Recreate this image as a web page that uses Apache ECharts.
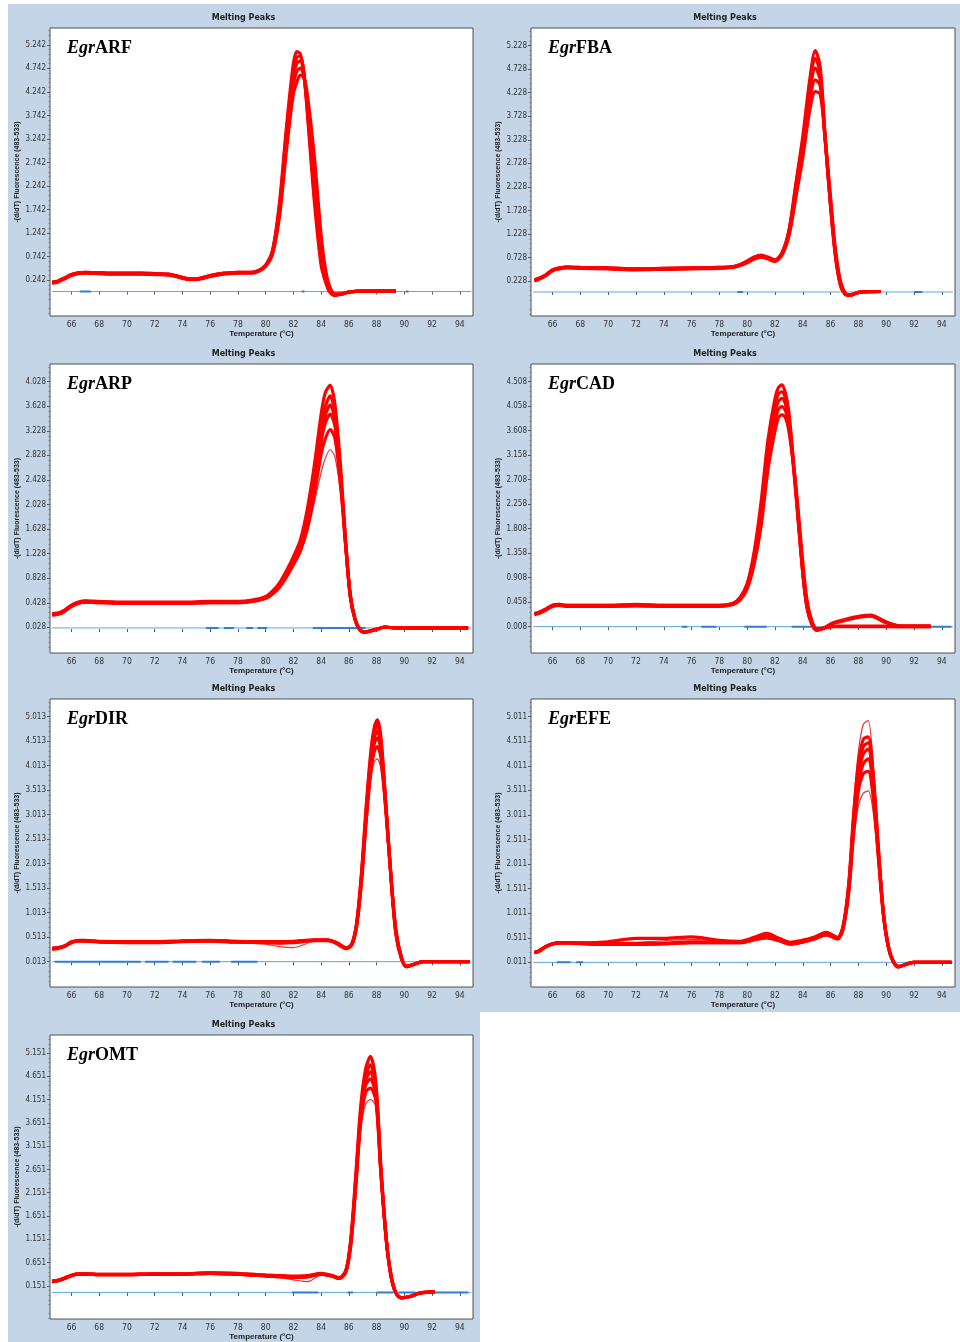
<!DOCTYPE html>
<html>
<head>
<meta charset="utf-8">
<script src="https://cdn.jsdelivr.net/npm/echarts@6/dist/echarts.min.js"></script>
<style>
html,body{margin:0;padding:0;background:#fff}
#chart{width:960px;height:1342px}
</style>
</head>
<body>
<div id="chart"></div>
<script>
// ---- temperature ticks shared by every panel ----
const xTicks = [66, 68, 70, 72, 74, 76, 78, 80, 82, 84, 86, 88, 90, 92, 94];

// ---- EgrARF ----
const arfTemps = [64.6,65,65.5,66,66.5,67,68,69,70,71,72,73,73.5,74,74.5,75,75.5,76,76.5,77,78,79,79.5,80,80.5,81,81.5,82,82.25,82.5,82.75,83,83.5,84,84.3,84.6,85,85.5,86,87,88,89.4];
const arfHigh = [0.20,0.22,0.29,0.36,0.40,0.41,0.40,0.39,0.39,0.39,0.38,0.37,0.34,0.30,0.27,0.27,0.30,0.34,0.37,0.39,0.41,0.41,0.45,0.56,0.88,1.90,3.50,4.85,5.10,5.05,4.65,3.80,1.95,0.55,0.22,0.00,-0.08,-0.05,-0.01,0.01,0.01,0.01];
const arfMid2 = [0.20,0.22,0.29,0.36,0.40,0.41,0.40,0.39,0.39,0.39,0.38,0.37,0.34,0.30,0.27,0.27,0.30,0.34,0.37,0.39,0.41,0.41,0.45,0.56,0.87,1.82,3.40,4.70,4.98,5.00,4.68,3.90,2.10,0.65,0.26,0.02,-0.08,-0.05,-0.01,0.01,0.01,0.01];
const arfMid  = [0.19,0.21,0.28,0.35,0.39,0.40,0.39,0.38,0.38,0.38,0.37,0.36,0.33,0.29,0.26,0.26,0.29,0.33,0.36,0.38,0.40,0.40,0.44,0.55,0.85,1.75,3.30,4.55,4.85,4.90,4.60,3.95,2.30,0.75,0.30,0.03,-0.07,-0.05,-0.01,0.01,0.01,0.01];
const arfMid3 = [0.19,0.21,0.28,0.35,0.39,0.40,0.39,0.38,0.38,0.38,0.37,0.36,0.33,0.29,0.26,0.26,0.29,0.33,0.36,0.38,0.40,0.40,0.44,0.54,0.82,1.68,3.15,4.40,4.68,4.75,4.58,4.08,2.60,0.98,0.40,0.07,-0.06,-0.05,-0.01,0.01,0.01,0.01];
const arfLow  = [0.18,0.20,0.27,0.34,0.38,0.39,0.38,0.37,0.37,0.37,0.36,0.35,0.32,0.28,0.25,0.25,0.28,0.32,0.35,0.37,0.39,0.39,0.43,0.53,0.80,1.60,3.00,4.20,4.45,4.60,4.55,4.20,2.90,1.20,0.50,0.12,-0.05,-0.05,-0.01,0.01,0.01,0.01];
const arfTicks = [0.242,0.742,1.242,1.742,2.242,2.742,3.242,3.742,4.242,4.742,5.242];
const arfMarks = [[66.6,67.4],[82.6,82.8],[90.1,90.3]];

// ---- EgrFBA ----
const fbaTemps = [64.7,65,65.5,66,66.5,67,68,70,72,74,76,78,79,79.5,80,80.5,81,81.5,82,82.5,83,83.5,84,84.5,84.9,85.25,85.6,86,86.35,86.7,87.05,87.4,88,89.6];
const fbaHigh = [0.26,0.29,0.36,0.47,0.51,0.53,0.52,0.51,0.49,0.50,0.51,0.52,0.54,0.58,0.66,0.74,0.78,0.74,0.68,0.83,1.30,2.30,3.30,4.50,5.12,4.78,3.35,1.80,0.75,0.15,-0.05,-0.07,-0.01,0.01];
const fbaMid2 = [0.25,0.28,0.36,0.47,0.51,0.53,0.52,0.51,0.49,0.50,0.51,0.52,0.54,0.58,0.65,0.73,0.77,0.73,0.68,0.82,1.28,2.25,3.20,4.38,4.95,4.65,3.30,1.82,0.78,0.16,-0.05,-0.07,-0.01,0.01];
const fbaMid  = [0.25,0.28,0.35,0.46,0.50,0.52,0.51,0.50,0.48,0.49,0.50,0.51,0.53,0.57,0.64,0.72,0.76,0.72,0.67,0.81,1.25,2.20,3.10,4.25,4.75,4.50,3.25,1.85,0.80,0.18,-0.04,-0.07,-0.01,0.01];
const fbaMid3 = [0.24,0.27,0.35,0.46,0.50,0.52,0.51,0.50,0.48,0.49,0.50,0.51,0.53,0.57,0.63,0.71,0.75,0.71,0.66,0.80,1.22,2.10,2.98,4.05,4.50,4.38,3.28,1.92,0.85,0.21,-0.03,-0.07,-0.01,0.01];
const fbaLow  = [0.24,0.27,0.34,0.45,0.49,0.51,0.50,0.49,0.47,0.48,0.49,0.50,0.52,0.56,0.62,0.70,0.74,0.70,0.65,0.78,1.18,2.00,2.85,3.85,4.25,4.20,3.30,2.00,0.90,0.25,-0.02,-0.06,-0.01,0.01];
const fbaTicks = [0.228,0.728,1.228,1.728,2.228,2.728,3.228,3.728,4.228,4.728,5.228];
const fbaMarks = [[79.3,79.7],[92,92.6]];

// ---- EgrARP ----
const arpTemps = [64.6,65,65.5,66,66.5,67,68,70,72,74,76,78,79,80,80.5,81,81.5,82,82.5,83,83.5,84,84.3,84.65,85,85.4,85.75,86.1,86.45,86.8,87.15,87.9,88.6,89.3,90,92,94.6];
const arpHigh = [0.25,0.26,0.31,0.39,0.44,0.46,0.45,0.44,0.44,0.44,0.45,0.45,0.47,0.53,0.62,0.75,0.95,1.18,1.45,1.95,2.65,3.50,3.85,3.97,3.65,2.65,1.50,0.55,0.15,-0.02,-0.05,-0.01,0.03,0.02,0.02,0.02,0.02];
const arpMid  = [0.24,0.25,0.30,0.38,0.43,0.45,0.44,0.43,0.43,0.43,0.44,0.44,0.46,0.52,0.60,0.72,0.91,1.12,1.36,1.78,2.45,3.30,3.62,3.80,3.50,2.54,1.45,0.53,0.15,-0.015,-0.05,-0.01,0.03,0.02,0.02,0.02,0.02];
const arpMid3 = [0.24,0.25,0.30,0.38,0.43,0.45,0.44,0.43,0.43,0.43,0.44,0.44,0.46,0.51,0.59,0.71,0.90,1.10,1.33,1.73,2.38,3.18,3.48,3.65,3.40,2.50,1.44,0.54,0.15,-0.012,-0.05,-0.01,0.03,0.02,0.02,0.02,0.02];
const arpMid2 = [0.23,0.24,0.29,0.37,0.42,0.44,0.43,0.42,0.42,0.42,0.43,0.43,0.45,0.50,0.58,0.70,0.88,1.08,1.30,1.68,2.30,3.05,3.35,3.50,3.30,2.45,1.42,0.55,0.16,-0.01,-0.05,-0.01,0.03,0.02,0.02,0.02,0.02];
const arpMid4 = [0.23,0.24,0.29,0.37,0.42,0.44,0.43,0.42,0.42,0.42,0.43,0.43,0.45,0.50,0.57,0.68,0.85,1.05,1.27,1.63,2.18,2.85,3.10,3.25,3.10,2.35,1.40,0.55,0.16,-0.01,-0.045,-0.01,0.03,0.02,0.02,0.02,0.02];
const arpLow  = [0.23,0.24,0.29,0.37,0.42,0.43,0.42,0.41,0.41,0.41,0.42,0.42,0.44,0.49,0.56,0.66,0.82,1.02,1.24,1.58,2.05,2.55,2.78,2.92,2.80,2.20,1.35,0.55,0.17,0.00,-0.04,-0.01,0.03,0.02,0.02,0.02,0.02];
const arpTicks = [0.028,0.428,0.828,1.228,1.628,2.028,2.428,2.828,3.228,3.628,4.028];
const arpMarks = [[75.7,76.6],[77,77.7],[78.6,79.1],[79.4,80.1],[83.4,87.2]];

// ---- EgrCAD ----
const cadTemps = [64.7,65,65.5,66,66.5,67,68,70,72,74,76,78,79,79.5,80,80.5,81,81.5,82,82.25,82.5,82.75,83,83.5,84,84.3,84.65,85,85.5,86.2,87.2,88.1,88.9,89.8,90.5,91,93.2];
const cadHigh = [0.25,0.27,0.33,0.40,0.42,0.40,0.40,0.40,0.42,0.40,0.40,0.40,0.44,0.55,0.80,1.38,2.30,3.45,4.20,4.40,4.45,4.30,3.95,2.55,1.00,0.36,0.05,-0.06,-0.02,0.08,0.15,0.20,0.22,0.12,0.05,0.02,0.02];
const cadMid2 = [0.25,0.27,0.33,0.40,0.42,0.40,0.40,0.40,0.41,0.40,0.40,0.40,0.44,0.54,0.78,1.33,2.20,3.32,4.08,4.28,4.32,4.20,3.88,2.50,1.00,0.37,0.06,-0.05,-0.02,0.07,0.14,0.19,0.21,0.11,0.04,0.02,0.02];
const cadMid  = [0.24,0.26,0.32,0.39,0.41,0.39,0.39,0.39,0.40,0.39,0.39,0.39,0.43,0.53,0.76,1.28,2.10,3.20,3.95,4.15,4.20,4.10,3.80,2.45,1.00,0.38,0.07,-0.05,-0.02,0.07,0.13,0.18,0.20,0.10,0.04,0.02,0.02];
const cadMid3 = [0.24,0.26,0.32,0.39,0.41,0.39,0.39,0.39,0.40,0.39,0.39,0.39,0.42,0.51,0.72,1.20,1.98,3.05,3.78,4.00,4.05,3.98,3.72,2.55,1.10,0.44,0.10,-0.04,-0.02,0.02,0.02,0.02,0.02,0.02,0.01,0.01,0.01];
const cadLow  = [0.23,0.25,0.31,0.38,0.40,0.38,0.38,0.38,0.39,0.38,0.38,0.38,0.42,0.50,0.70,1.15,1.85,2.90,3.60,3.85,3.90,3.85,3.60,2.60,1.20,0.50,0.12,-0.03,-0.02,0.01,0.01,0.01,0.01,0.01,0.01,0.01,0.01];
const cadTicks = [0.008,0.458,0.908,1.358,1.808,2.258,2.708,3.158,3.608,4.058,4.508];
const cadMarks = [[75.3,75.7],[76.7,77.8],[79.8,81.4],[83.2,84.6],[87,90],[91,94.7]];

// ---- EgrDIR ----
const dirTemps = [64.6,65,65.5,66,66.5,67,68,70,72,74,76,78,80,81,82,83.5,84.5,85.2,85.8,86.2,86.55,86.9,87.25,87.6,87.85,88.05,88.3,88.7,89.05,89.4,89.8,90.15,90.6,91.35,94.7];
const dirHigh = [0.29,0.30,0.34,0.42,0.45,0.45,0.43,0.42,0.42,0.44,0.45,0.43,0.42,0.42,0.43,0.46,0.46,0.39,0.30,0.37,0.78,1.80,3.20,4.35,4.82,4.95,4.62,3.10,1.65,0.55,0.06,-0.09,-0.05,0.013,0.013];
const dirMid2 = [0.28,0.29,0.33,0.41,0.44,0.44,0.42,0.41,0.41,0.43,0.44,0.42,0.41,0.41,0.42,0.45,0.45,0.38,0.29,0.36,0.77,1.75,3.10,4.25,4.72,4.85,4.55,3.08,1.68,0.58,0.07,-0.09,-0.05,0.013,0.013];
const dirMid  = [0.28,0.29,0.33,0.41,0.44,0.44,0.42,0.41,0.41,0.43,0.44,0.42,0.41,0.41,0.42,0.45,0.45,0.38,0.29,0.36,0.75,1.70,3.00,4.15,4.60,4.72,4.45,3.05,1.70,0.60,0.08,-0.09,-0.055,0.013,0.013];
const dirMid3 = [0.28,0.29,0.33,0.41,0.44,0.44,0.42,0.41,0.41,0.43,0.44,0.42,0.41,0.40,0.41,0.45,0.45,0.38,0.29,0.35,0.73,1.65,2.95,4.05,4.48,4.58,4.35,3.00,1.70,0.62,0.09,-0.08,-0.05,0.013,0.013];
const dirMid4 = [0.27,0.28,0.32,0.40,0.43,0.43,0.41,0.40,0.40,0.42,0.43,0.41,0.40,0.39,0.40,0.44,0.44,0.37,0.28,0.35,0.72,1.60,2.88,3.92,4.32,4.40,4.20,2.98,1.70,0.64,0.10,-0.08,-0.05,0.013,0.013];
const dirLow  = [0.27,0.28,0.32,0.40,0.43,0.43,0.41,0.40,0.40,0.42,0.43,0.40,0.37,0.32,0.30,0.43,0.44,0.37,0.28,0.34,0.70,1.55,2.80,3.80,4.10,4.15,3.95,2.90,1.65,0.65,0.12,-0.07,-0.05,0.013,0.013];
const dirTicks = [0.013,0.513,1.013,1.513,2.013,2.513,3.013,3.513,4.013,4.513,5.013];
const dirMarks = [[64.8,71],[71.3,73],[73.3,75],[75.4,76.7],[77.5,79.4],[93.8,94.7]];

// ---- EgrEFE ----
const efeTemps = [64.7,65,65.5,66,66.5,67,68,70,72,74,76,78,79.5,80.5,81.4,82.3,83.1,83.8,84.8,85.7,86.5,86.9,87.3,87.65,88,88.35,88.7,89.05,89.45,89.8,90.15,90.5,90.9,91.5,92,94.7];
const efeHigh = [0.22,0.25,0.34,0.40,0.42,0.42,0.41,0.40,0.42,0.45,0.48,0.44,0.43,0.50,0.57,0.49,0.42,0.44,0.53,0.63,0.53,0.78,1.70,3.20,4.30,4.85,4.93,4.10,2.40,1.05,0.33,0.02,-0.08,-0.02,0.011,0.011];
const efeUp   = [0.21,0.24,0.33,0.39,0.41,0.41,0.41,0.43,0.50,0.50,0.53,0.46,0.44,0.52,0.60,0.50,0.42,0.45,0.52,0.62,0.52,0.75,1.60,3.00,4.05,4.55,4.60,3.90,2.30,1.02,0.33,0.03,-0.08,-0.02,0.011,0.011];
const efeMid2 = [0.21,0.24,0.33,0.39,0.41,0.41,0.40,0.39,0.39,0.40,0.43,0.42,0.42,0.49,0.55,0.48,0.41,0.43,0.51,0.61,0.51,0.74,1.55,2.90,3.92,4.40,4.48,3.80,2.25,1.01,0.33,0.03,-0.08,-0.02,0.011,0.011];
const efeMid  = [0.21,0.24,0.33,0.39,0.41,0.41,0.40,0.38,0.38,0.39,0.42,0.42,0.42,0.48,0.53,0.47,0.40,0.42,0.50,0.59,0.50,0.72,1.50,2.80,3.80,4.25,4.35,3.70,2.20,1.00,0.33,0.03,-0.08,-0.02,0.011,0.011];
const efeMid3 = [0.21,0.24,0.33,0.39,0.41,0.41,0.40,0.38,0.38,0.39,0.41,0.41,0.41,0.47,0.52,0.46,0.39,0.41,0.49,0.58,0.49,0.70,1.45,2.70,3.65,4.05,4.15,3.60,2.15,0.99,0.34,0.04,-0.07,-0.02,0.011,0.011];
const efeMid4 = [0.20,0.23,0.32,0.38,0.40,0.40,0.39,0.38,0.38,0.39,0.41,0.41,0.41,0.47,0.51,0.45,0.38,0.41,0.48,0.57,0.49,0.70,1.42,2.60,3.50,3.85,3.90,3.40,2.10,0.98,0.35,0.04,-0.07,-0.02,0.011,0.011];
const efeLow  = [0.20,0.23,0.32,0.38,0.40,0.40,0.39,0.37,0.37,0.38,0.41,0.41,0.41,0.46,0.50,0.44,0.37,0.40,0.47,0.55,0.48,0.68,1.40,2.50,3.20,3.45,3.50,3.10,2.00,0.95,0.35,0.05,-0.06,-0.02,0.011,0.011];
const efeTicks = [0.011,0.511,1.011,1.511,2.011,2.511,3.011,3.511,4.011,4.511,5.011];
const efeMarks = [[66.3,67.3],[67.7,68.2]];

// ---- EgrOMT ----
const omtTemps = [64.6,65,65.5,66,66.5,67,68,70,72,74,76,78,80,81,82,83,84,84.8,85.3,85.8,86.15,86.5,86.85,87.2,87.55,87.95,88.3,88.7,89.05,89.4,89.8,90.4,91.1,92.2];
const omtHigh = [0.25,0.27,0.32,0.38,0.41,0.41,0.40,0.40,0.41,0.41,0.43,0.42,0.38,0.37,0.36,0.37,0.42,0.37,0.32,0.50,1.20,2.55,4.00,4.80,5.08,4.50,2.75,1.15,0.33,-0.01,-0.11,-0.08,-0.005,0.02];
const omtMid2 = [0.25,0.27,0.32,0.38,0.41,0.41,0.40,0.40,0.41,0.41,0.43,0.41,0.38,0.37,0.35,0.36,0.41,0.37,0.32,0.49,1.15,2.45,3.88,4.65,4.90,4.40,2.70,1.14,0.34,-0.008,-0.11,-0.08,-0.005,0.02];
const omtMid3 = [0.24,0.26,0.31,0.37,0.40,0.40,0.39,0.39,0.40,0.40,0.42,0.40,0.37,0.36,0.34,0.35,0.40,0.36,0.31,0.48,1.12,2.40,3.80,4.55,4.75,4.30,2.65,1.13,0.35,-0.005,-0.11,-0.08,-0.005,0.02];
const omtMid  = [0.24,0.26,0.31,0.37,0.40,0.40,0.39,0.39,0.40,0.40,0.42,0.40,0.37,0.36,0.34,0.35,0.40,0.36,0.31,0.47,1.10,2.35,3.75,4.45,4.60,4.20,2.60,1.12,0.35,-0.005,-0.11,-0.08,-0.005,0.02];
const omtMid4 = [0.24,0.26,0.31,0.37,0.40,0.40,0.39,0.39,0.40,0.40,0.42,0.40,0.36,0.35,0.33,0.34,0.40,0.36,0.31,0.46,1.05,2.28,3.65,4.30,4.40,4.12,2.62,1.14,0.36,0.00,-0.10,-0.08,-0.005,0.02];
const omtLow  = [0.23,0.25,0.30,0.36,0.39,0.39,0.38,0.38,0.39,0.39,0.41,0.38,0.35,0.32,0.28,0.24,0.38,0.35,0.30,0.44,1.00,2.20,3.50,4.05,4.15,4.00,2.60,1.15,0.38,0.01,-0.10,-0.08,-0.005,0.02];
const omtTicks = [0.151,0.651,1.151,1.651,2.151,2.651,3.151,3.651,4.151,4.651,5.151];
const omtMarks = [[81.9,83.8],[85.9,86.3],[88,89.2],[89.6,90.8],[91.4,94.6]];

// ---- panel setup: gene, curves, baseline level, y range, frame box ----
const panels = [
  {gene:'ARF', temps:arfTemps, curves:[arfLow, arfMid3, arfMid, arfMid2, arfHigh], thin:[], base:0.0, ticks:arfTicks, yMin:-0.52, yMax:5.60, marks:arfMarks, box:[50,28,423,288]},
  {gene:'FBA', temps:fbaTemps, curves:[fbaLow, fbaMid3, fbaMid, fbaMid2, fbaHigh], thin:[], base:0.0, ticks:fbaTicks, yMin:-0.51, yMax:5.60, marks:fbaMarks, box:[531,28,424,288]},
  {gene:'ARP', temps:arpTemps, curves:[arpMid4, arpMid2, arpMid3, arpMid, arpHigh], thin:[arpLow], base:0.018, ticks:arpTicks, yMin:-0.39, yMax:4.317, marks:arpMarks, box:[50,364,423,289]},
  {gene:'CAD', temps:cadTemps, curves:[cadLow, cadMid3, cadMid, cadMid2, cadHigh], thin:[], base:0.008, ticks:cadTicks, yMin:-0.476, yMax:4.833, marks:cadMarks, box:[531,364,424,289]},
  {gene:'DIR', temps:dirTemps, curves:[dirMid4, dirMid3, dirMid, dirMid2, dirHigh], thin:[dirLow], base:0.013, ticks:dirTicks, yMin:-0.504, yMax:5.373, marks:dirMarks, box:[50,699,423,288]},
  {gene:'EFE', temps:efeTemps, curves:[efeMid4, efeMid3, efeMid, efeMid2, efeUp], thin:[efeHigh, efeLow], base:0.011, ticks:efeTicks, yMin:-0.491, yMax:5.37, marks:efeMarks, box:[531,699,424,288]},
  {gene:'OMT', temps:omtTemps, curves:[omtMid4, omtMid, omtMid3, omtMid2, omtHigh], thin:[omtLow], base:0.01, ticks:omtTicks, yMin:-0.562, yMax:5.54, marks:omtMarks, box:[50,1035,423,288]}
];

const X_MIN = 64.45, X_MAX = 94.95;
const PANEL_BLUE = '#c3d5e6';
const RED = '#ff0000';
const tickFont = "'Liberation Sans Narrow','DejaVu Sans Condensed',sans-serif";

const grids = [], xAxes = [], yAxes = [], series = [], graphics = [];

// blue panel backgrounds
graphics.push({type:'rect', z:-100, shape:{x:8, y:4, width:472, height:1338}, style:{fill:PANEL_BLUE}});
graphics.push({type:'rect', z:-100, shape:{x:480, y:4, width:480, height:1008}, style:{fill:PANEL_BLUE}});

panels.forEach((p, i) => {
  const [left, top, width, height] = p.box;
  grids.push({left, top, width, height, show:true, backgroundColor:'#fff', borderColor:'#505050', borderWidth:1, containLabel:false});

  xAxes.push({
    type:'value', gridIndex:i, min:X_MIN, max:X_MAX, position:'bottom',
    name:'Temperature (°C)', nameLocation:'middle', nameGap:14, nameMoveOverlap:false,
    nameTextStyle:{fontFamily:'Liberation Sans', fontWeight:'bold', fontSize:8, color:'#1e1e1e'},
    axisLine:{show:false},
    axisTick:{show:true, length:3, lineStyle:{color:'#555'}, customValues:xTicks},
    axisLabel:{show:true, margin:4, fontSize:8.5, fontFamily:tickFont, color:'#333', customValues:xTicks},
    splitLine:{show:false}
  });

  // major ticks with labels
  yAxes.push({
    type:'value', gridIndex:i, min:p.yMin, max:p.yMax, position:'left',
    name:'-(d/dT) Fluorescence (483-533)', nameLocation:'middle', nameGap:29, nameMoveOverlap:false,
    nameTextStyle:{fontFamily:'Liberation Sans', fontWeight:'bold', fontSize:7, color:'#1e1e1e'},
    axisLine:{show:false},
    axisTick:{show:true, length:3, lineStyle:{color:'#555'}, customValues:p.ticks},
    axisLabel:{show:true, margin:4, fontSize:8, fontFamily:tickFont, color:'#333', customValues:p.ticks,
               formatter: v => v.toFixed(3)},
    splitLine:{show:false}
  });

  // minor ticks: five subdivisions of each labelled step, drawn by a second
  // axis shifted from the right edge over to the left edge of the frame
  const step = (p.ticks[1] - p.ticks[0]) / 5;
  const minor = [];
  for (let k = Math.ceil((p.yMin - p.ticks[0]) / step); p.ticks[0] + k * step <= p.yMax; k++) {
    if (k % 5 !== 0) minor.push(p.ticks[0] + k * step);
  }
  yAxes.push({
    type:'value', gridIndex:i, min:p.yMin, max:p.yMax, position:'right', offset:-width,
    axisLine:{show:false}, axisLabel:{show:false}, splitLine:{show:false},
    axisTick:{show:true, inside:true, length:1.5, lineStyle:{color:'#777'}, customValues:minor}
  });
  const yMajor = yAxes.length - 2;

  // reference baseline
  series.push({
    type:'line', xAxisIndex:i, yAxisIndex:yMajor, symbol:'none', silent:true, z:1,
    lineStyle:{color:'#5aa7e4', width:1},
    data:[[64.6, p.base], [94.8, p.base]]
  });
  // darker blue pieces lying on the baseline
  const markData = [];
  p.marks.forEach(([a, b]) => { markData.push([a, p.base], [b, p.base], [b, '-']); });
  series.push({
    type:'line', xAxisIndex:i, yAxisIndex:yMajor, symbol:'none', silent:true, z:2,
    connectNulls:false, lineStyle:{color:'#2f7fd6', width:2}, data:markData
  });

  // replicate melting curves
  const addCurve = (vals, width, color, z) => {
    series.push({
      type:'line', xAxisIndex:i, yAxisIndex:yMajor, symbol:'none', silent:true, z,
      smooth:0.3, lineStyle:{color, width},
      data: p.temps.map((t, j) => [t, vals[j]])
    });
  };
  p.thin.forEach(c => addCurve(c, 1.2, '#e83030', 3));
  p.curves.forEach(c => addCurve(c, 3.2, RED, 4));

  // headings
  graphics.push({type:'text', z:100, x:left + width / 2 - 18, y:top - 10,
    style:{text:'Melting Peaks', fontFamily:'DejaVu Sans', fontWeight:'bold', fontSize:8, fill:'#222',
           align:'center', verticalAlign:'middle'}});
  graphics.push({type:'text', z:100, x:left + 17, y:top + 20,
    style:{text:'{i|Egr}{b|' + p.gene + '}', verticalAlign:'middle', align:'left',
      rich:{
        i:{fontFamily:'Liberation Serif', fontStyle:'italic', fontWeight:'bold', fontSize:18, fill:'#000'},
        b:{fontFamily:'Liberation Serif', fontWeight:'bold', fontSize:18, fill:'#000'}
      }}});
});

const chart = echarts.init(document.getElementById('chart'), null, {renderer:'canvas', width:960, height:1342});
chart.setOption({
  animation:false,
  backgroundColor:'#ffffff',
  grid:grids, xAxis:xAxes, yAxis:yAxes, series, graphic:graphics
});
</script>
</body>
</html>
